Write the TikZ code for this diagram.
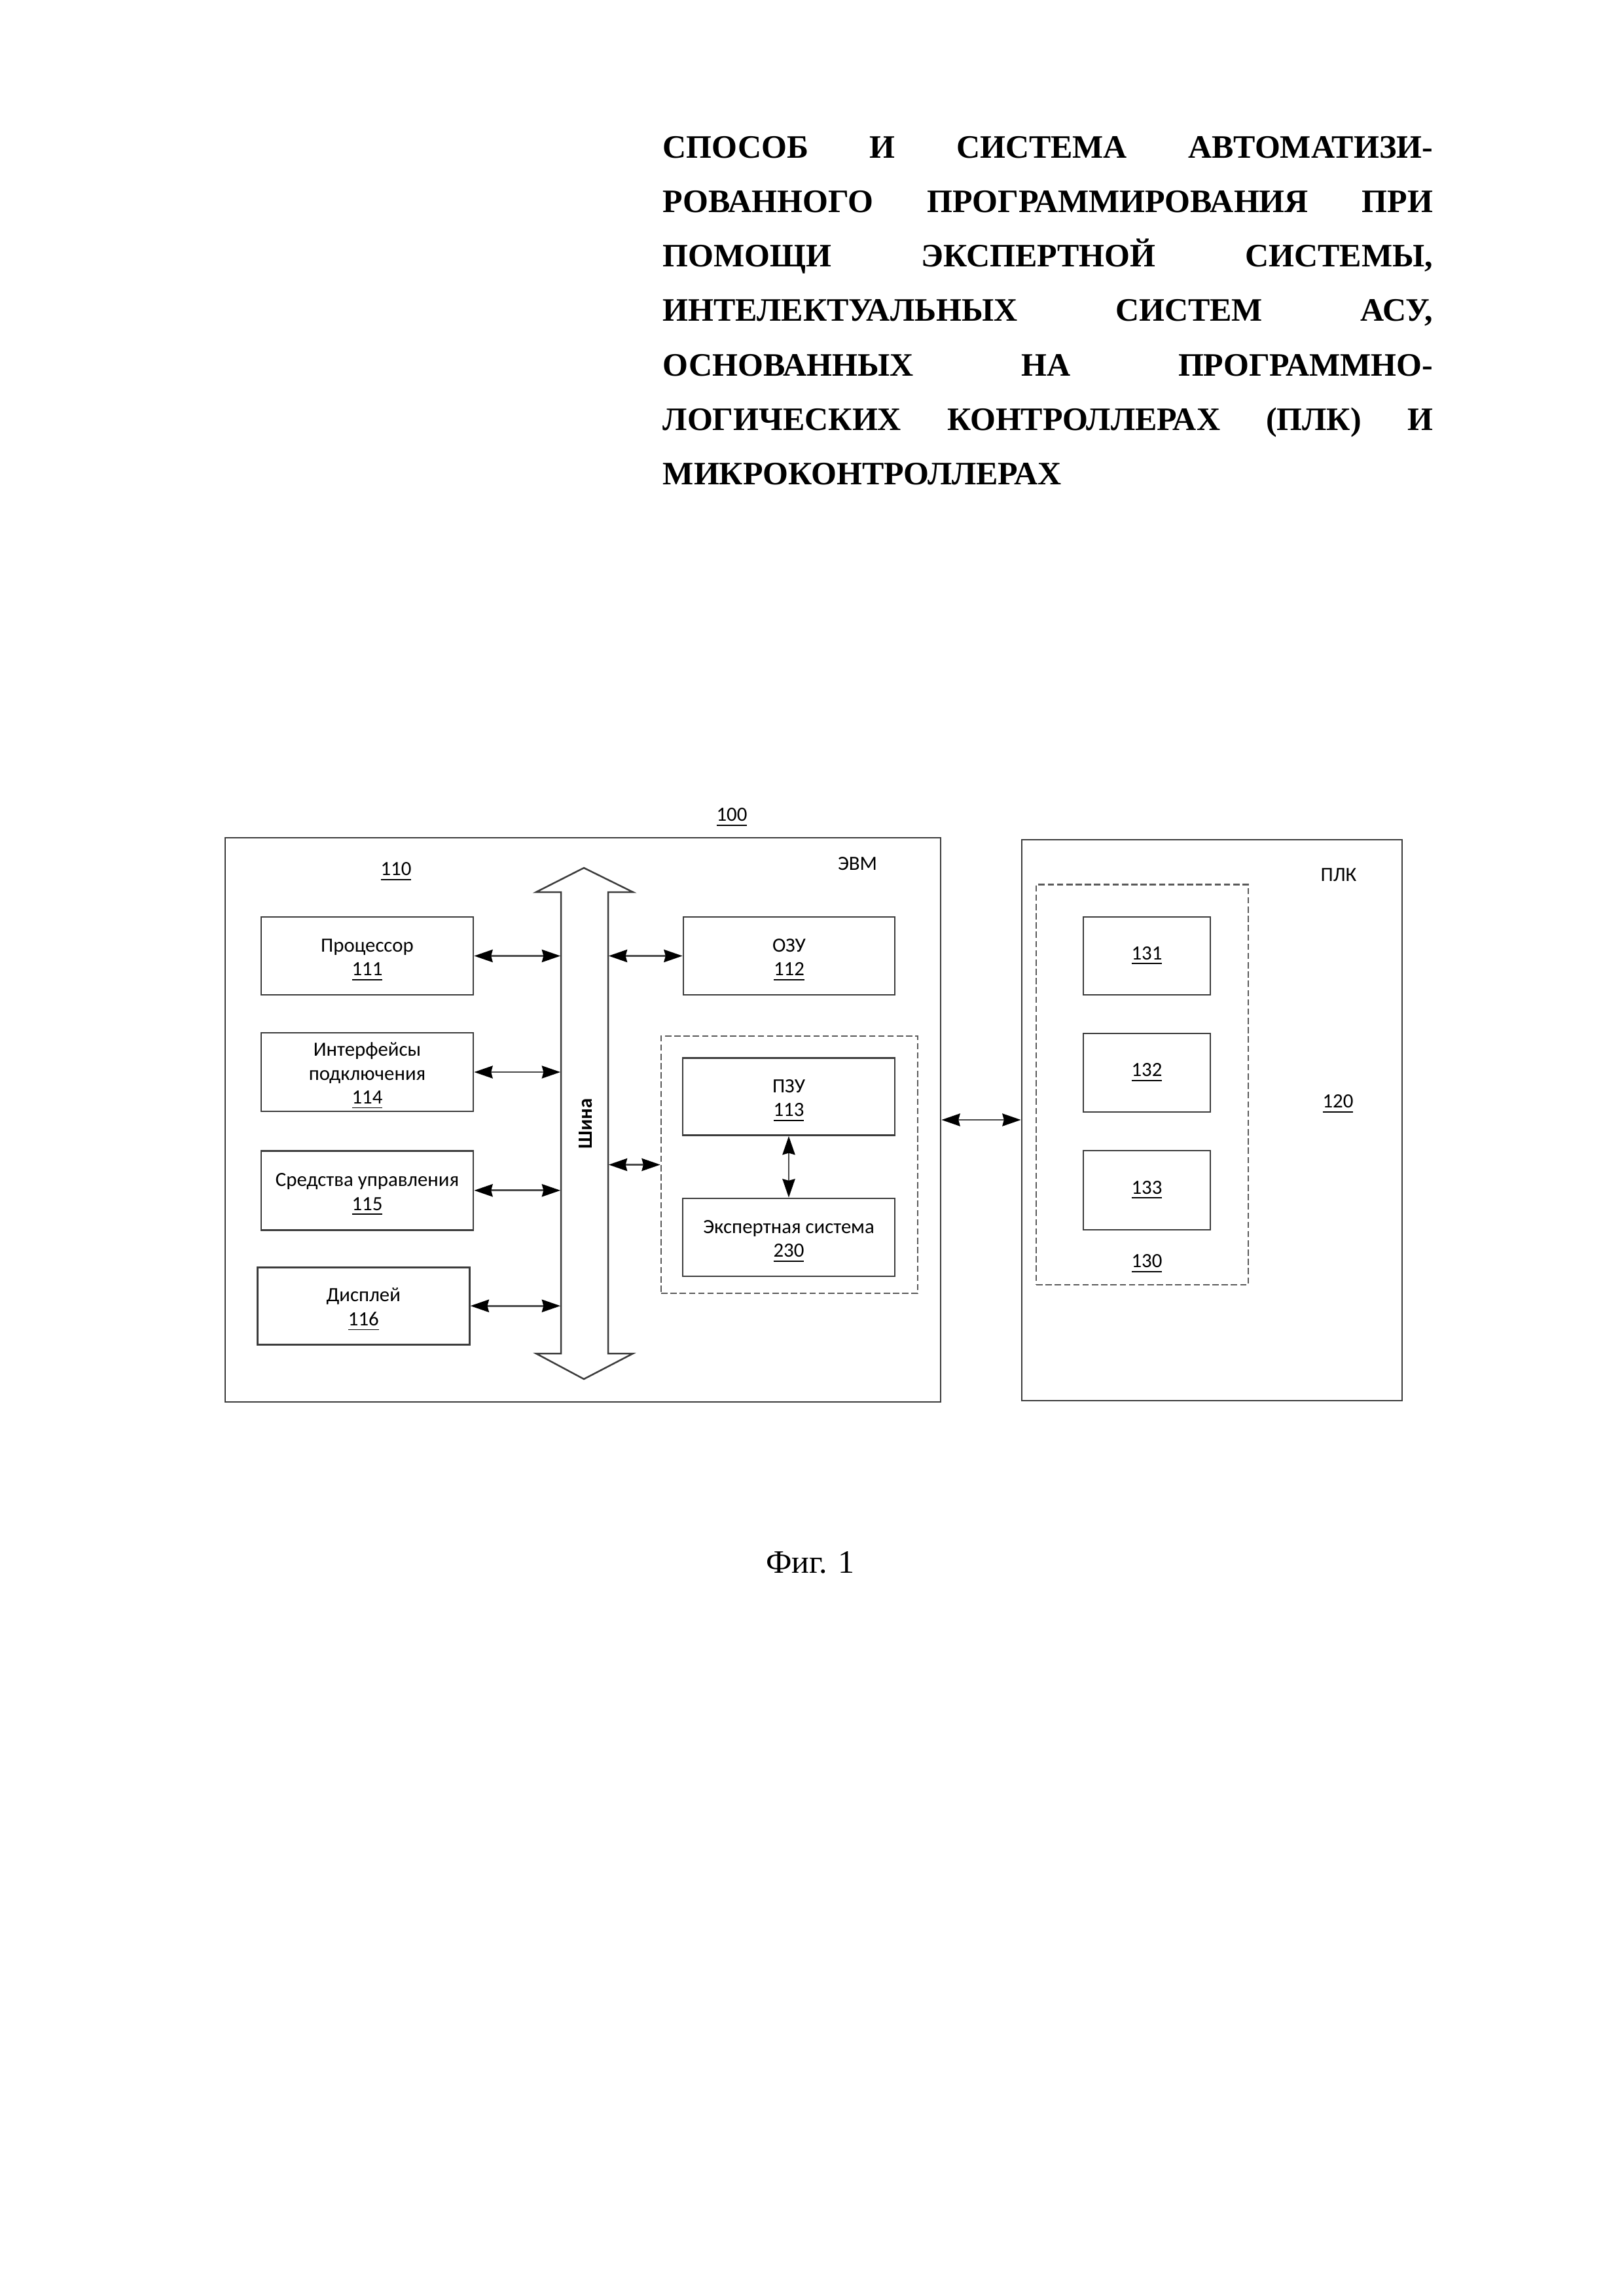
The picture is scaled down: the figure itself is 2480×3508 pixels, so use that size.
\documentclass[tikz,border=0pt]{standalone}
\usepackage{fontspec}
\setmainfont{Liberation Serif}
\newfontfamily\diagfont{Carlito}
\usetikzlibrary{arrows.meta}
\newcommand\pxl[1]{#1*0.24003pt}
\newcommand\tstrut{\rule{0pt}{7.8pt}}
\definecolor{boxgray}{HTML}{3C3C3C}
\definecolor{dashgray}{HTML}{5A5A5A}
\definecolor{linegray}{HTML}{4A4A4A}
\begin{document}
\begin{tikzpicture}[x=0.24003pt,y=-0.24003pt,
  dfont/.style={font=\diagfont\fontsize{7.4}{8.8}\selectfont},
  box/.style={dfont,draw=boxgray,line width=0.65pt,inner sep=0pt,align=center,text=black},
  dashbox/.style={draw=dashgray,line width=0.6pt,dash pattern=on 2.3pt off 1.1pt,inner sep=0pt},
  lbl/.style={dfont,inner sep=0pt,text=black},
  tip/.tip={Stealth[length=6.8pt,width=4.6pt,inset=0.6pt,color=black]},
  conn/.style={line width=0.65pt,draw=linegray,tip-tip},
  tline/.style={anchor=base west,inner sep=0pt,font=\fontsize{12}{14}\selectfont\bfseries}]
\useasboundingbox (0,0) rectangle (2480,3508);

% Title
\node[tline] (t1) at (1012,241) {\hbox to 282.3pt{СПОСОБ\hfill И\hfill СИСТЕМА\hfill АВТОМАТИЗИ-}};
\node[tline] (t2) at (1012,324.3) {\hbox to 282.3pt{РОВАННОГО\hfill ПРОГРАММИРОВАНИЯ\hfill ПРИ}};
\node[tline] (t3) at (1012,407.6) {\hbox to 282.3pt{ПОМОЩИ\hfill ЭКСПЕРТНОЙ\hfill СИСТЕМЫ,}};
\node[tline] (t4) at (1012,490.9) {\hbox to 282.3pt{ИНТЕЛЕКТУАЛЬНЫХ\hfill СИСТЕМ\hfill АСУ,}};
\node[tline] (t5) at (1012,574.2) {\hbox to 282.3pt{ОСНОВАННЫХ\hfill НА\hfill ПРОГРАММНО-}};
\node[tline] (t6) at (1012,657.5) {\hbox to 282.3pt{ЛОГИЧЕСКИХ\hfill КОНТРОЛЛЕРАХ\hfill (ПЛК)\hfill И}};
\node[tline] (t7) at (1012,740.8) {МИКРОКОНТРОЛЛЕРАХ};

% Outer boxes
\node[draw=boxgray,line width=0.65pt,inner sep=0pt,minimum width=\pxl{1093},minimum height=\pxl{862}] (evm) at (890.5,1711) {};
\node[draw=boxgray,line width=0.65pt,inner sep=0pt,minimum width=\pxl{581},minimum height=\pxl{857}] (plc) at (1851.5,1711.5) {};

\node[lbl] (l100) at (1118,1249) {\underline{100}};
\node[lbl] (levm) at (1310,1320) {ЭВМ};
\node[lbl] (l110) at (605,1332) {\underline{110}};
\node[lbl] (lplc) at (2045,1337) {ПЛК};
\node[lbl] (l120) at (2044,1687) {\underline{120}};

% Bus
\node[inner sep=0pt,minimum width=\pxl{72},minimum height=\pxl{705}] (bus) at (893,1715.5) {};
\draw[draw=boxgray,line width=0.6pt,line join=miter]
  (857,2068) -- (857,1363) -- (819,1363) -- (892,1326) -- (967,1363) -- (929,1363)
  -- (929,2068) -- (967,2068) -- (892,2107) -- (819,2068) -- cycle;
\node[inner sep=0pt,rotate=90,font=\diagfont\fontsize{7.4}{8.8}\selectfont\bfseries] (lbus) at (895,1717) {Шина};

% Left column boxes
\node[box,minimum width=\pxl{324},minimum height=\pxl{119}] (proc) at (561,1460.5) {\tstrut Процессор\\\underline{111}};
\node[box,minimum width=\pxl{324},minimum height=\pxl{120}] (intf) at (561,1638) {\tstrut Интерфейсы\\подключения\\\underline{114}};
\node[box,minimum width=\pxl{324},minimum height=\pxl{121}] (ctrl) at (561,1818.8) {\tstrut Средства управления\\\underline{115}};
\node[box,minimum width=\pxl{324},minimum height=\pxl{118}] (disp) at (555.3,1995.2) {\tstrut Дисплей\\\underline{116}};

% Right column boxes
\node[box,minimum width=\pxl{323},minimum height=\pxl{119}] (ram) at (1205.5,1460.5) {\tstrut ОЗУ\\\underline{112}};
\node[dashbox,minimum width=\pxl{392},minimum height=\pxl{393}] (romgrp) at (1206,1779.5) {};
\node[box,minimum width=\pxl{324},minimum height=\pxl{118}] (rom) at (1205,1675.5) {\tstrut ПЗУ\\\underline{113}};
\node[box,minimum width=\pxl{324},minimum height=\pxl{119}] (exp) at (1205,1890.5) {\tstrut Экспертная система\\\underline{230}};

% PLC internals
\node[dashbox,minimum width=\pxl{324},minimum height=\pxl{611.5}] (grp130) at (1745,1657.25) {};
\node[box,minimum width=\pxl{194},minimum height=\pxl{119}] (b131) at (1752,1460.5) {\underline{131}};
\node[box,minimum width=\pxl{194},minimum height=\pxl{120}] (b132) at (1752,1639) {\underline{132}};
\node[box,minimum width=\pxl{194},minimum height=\pxl{121}] (b133) at (1752,1818.5) {\underline{133}};
\node[lbl] (l130) at (1752,1931) {\underline{130}};

% Connectors
\draw[conn] (proc.east) -- (proc.east -| bus.west);
\draw[conn] (intf.east) -- (intf.east -| bus.west);
\draw[conn] (ctrl.east) -- (ctrl.east -| bus.west);
\draw[conn] (disp.east) -- (disp.east -| bus.west);
\draw[conn] (ram.west -| bus.east) -- (ram.west);
\draw[conn] (romgrp.west -| bus.east) -- (romgrp.west);
\draw[conn] (rom.south) -- (exp.north);
\draw[conn] (evm.east) -- (evm.east -| plc.west);

% Caption
\node[anchor=base,inner sep=0pt,font=\fontsize{12}{14}\selectfont] (cap) at (1238,2403) {Фиг. 1};
\end{tikzpicture}
\end{document}
